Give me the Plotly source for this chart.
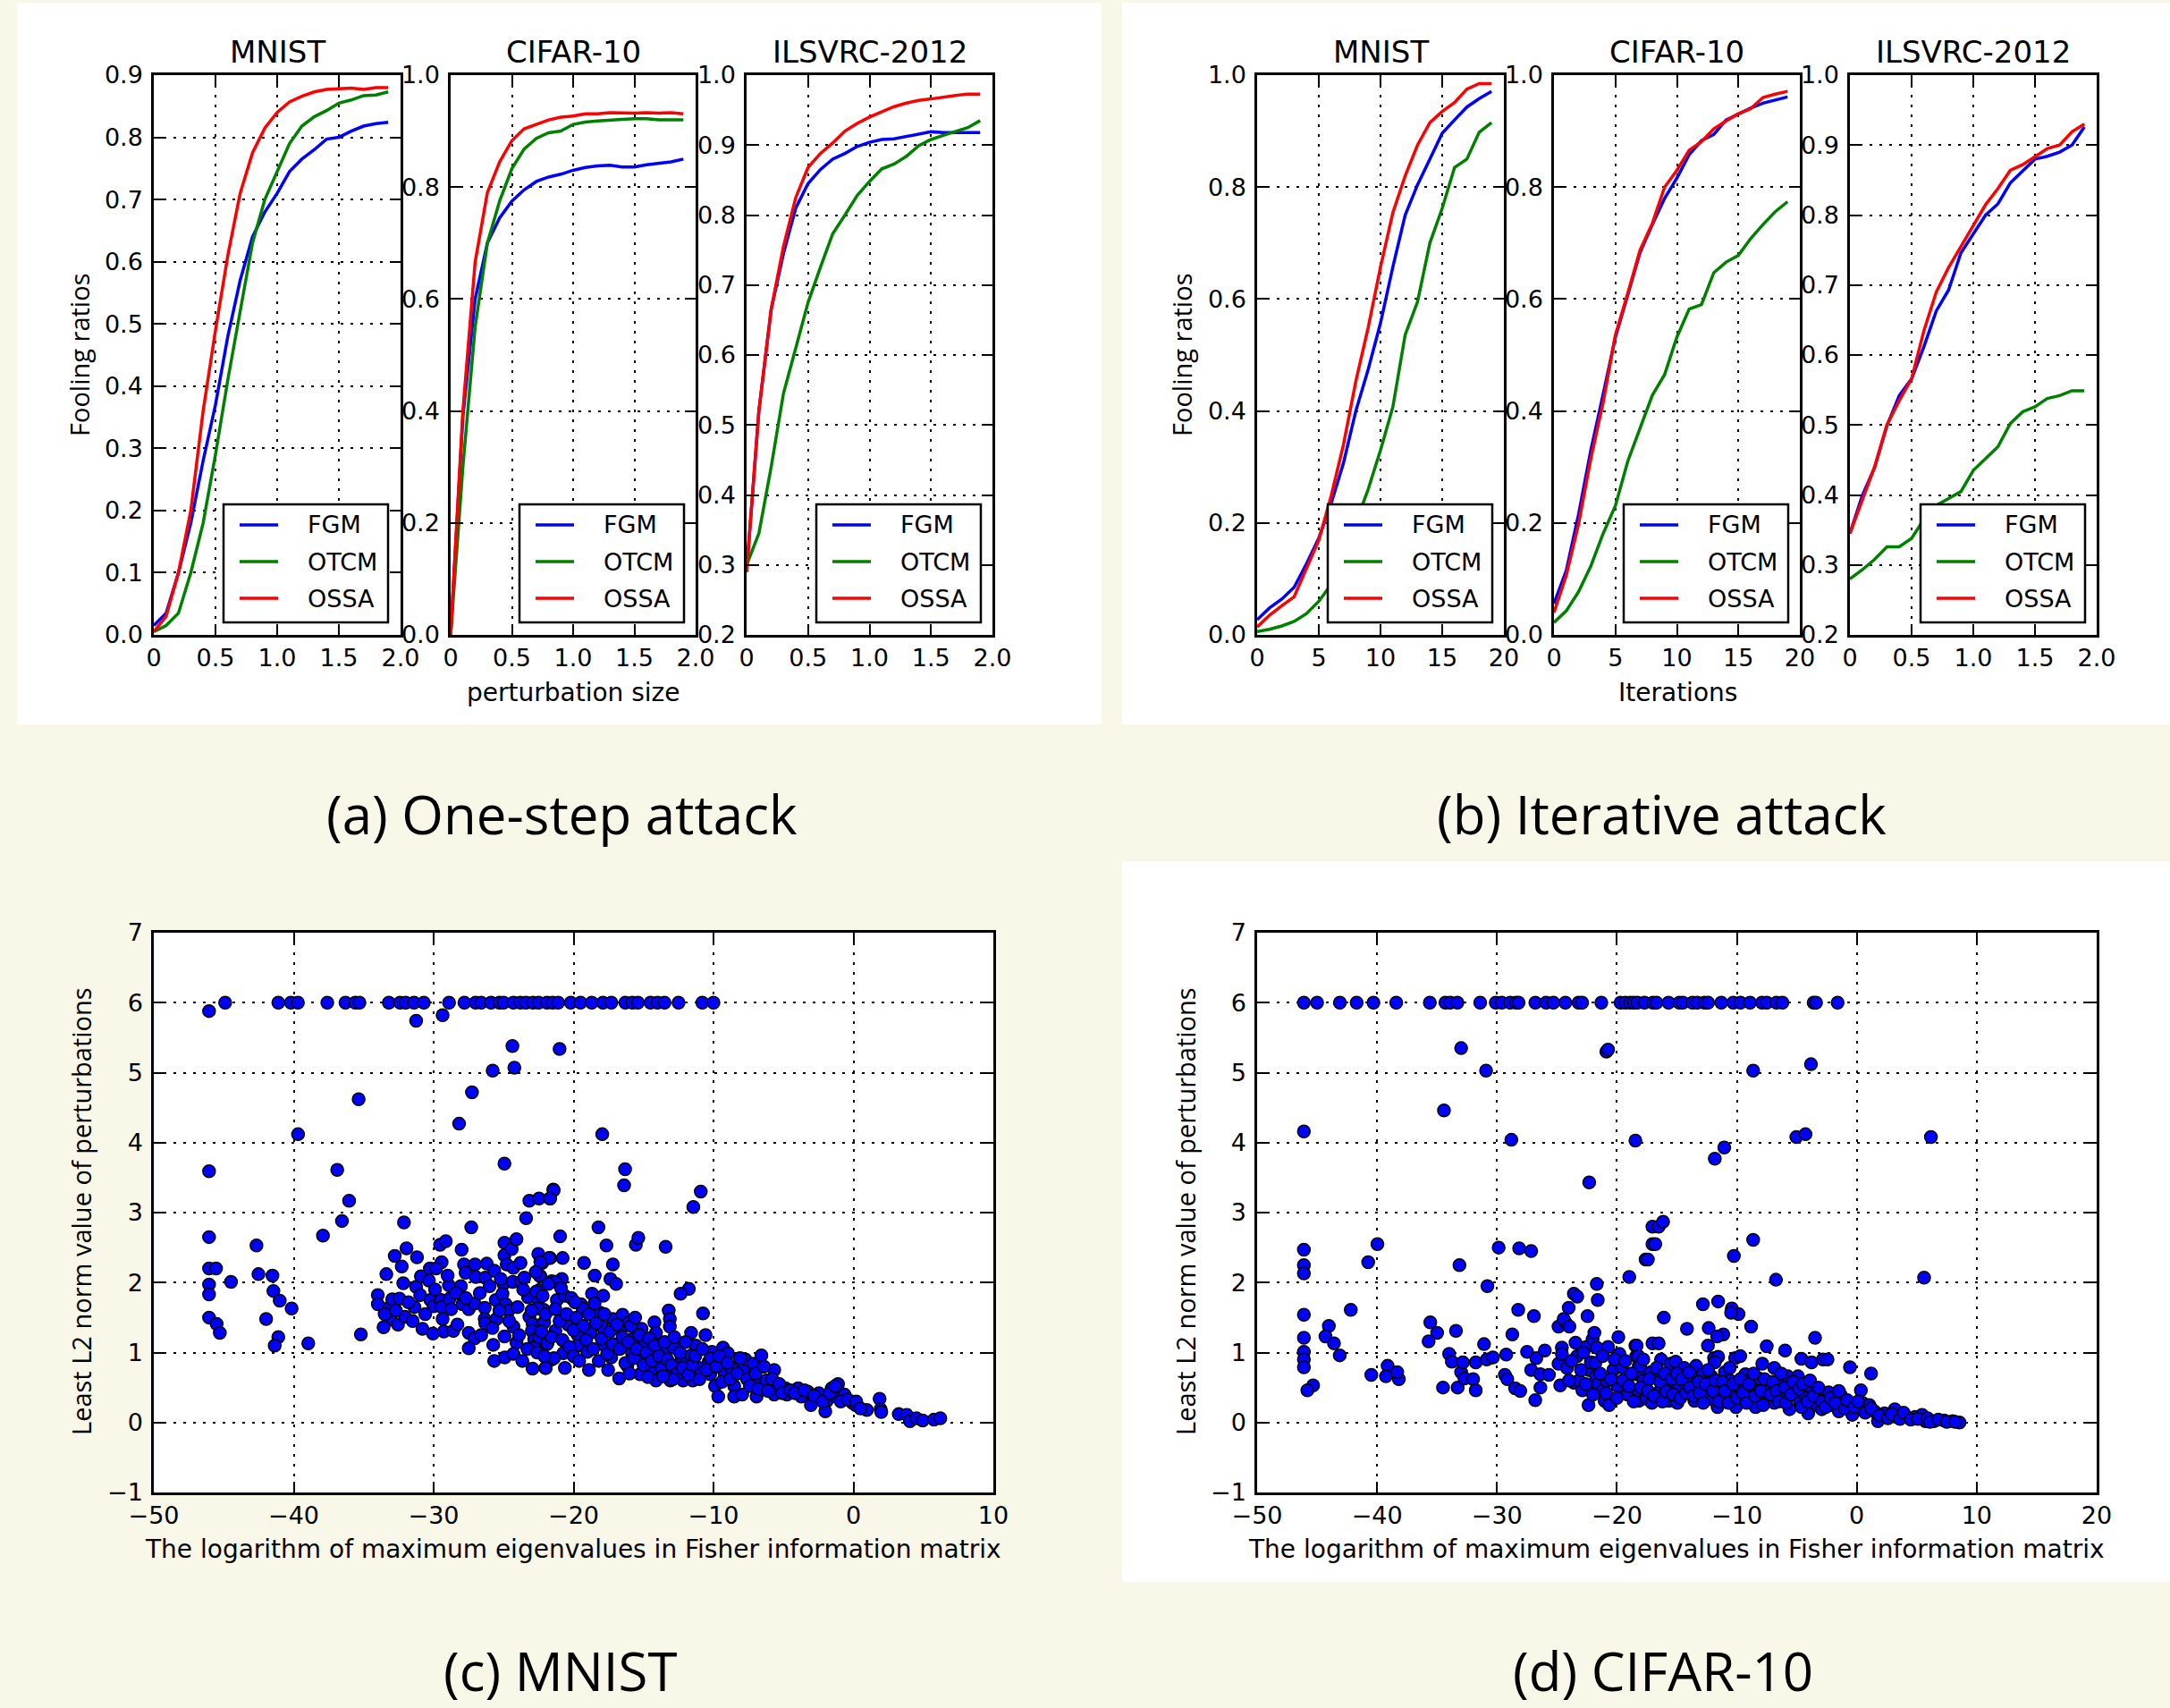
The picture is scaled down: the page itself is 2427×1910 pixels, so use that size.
import plotly.graph_objects as go

W, H = 2427, 1910
BG = "#f8f7e8"

# ---------------- data ----------------
x_pert = [0.0, 0.1, 0.2, 0.3, 0.4, 0.5, 0.6, 0.7, 0.8, 0.9, 1.0, 1.1, 1.2, 1.3, 1.4, 1.5, 1.6, 1.7, 1.8, 1.9]
x_iter = list(range(20))

a_mnist_fgm = [0.015, 0.035, 0.10, 0.18, 0.28, 0.37, 0.48, 0.57, 0.64, 0.68, 0.71, 0.745, 0.765, 0.78, 0.797, 0.80, 0.81, 0.818, 0.822, 0.824]
a_mnist_otcm = [0.005, 0.015, 0.035, 0.10, 0.18, 0.29, 0.41, 0.52, 0.63, 0.70, 0.745, 0.79, 0.818, 0.833, 0.843, 0.855, 0.86, 0.867, 0.868, 0.873]
a_mnist_ossa = [0.005, 0.03, 0.10, 0.20, 0.36, 0.49, 0.61, 0.71, 0.775, 0.815, 0.84, 0.857, 0.866, 0.873, 0.877, 0.878, 0.879, 0.877, 0.880, 0.880]

a_cifar_fgm = [0.0, 0.39, 0.60, 0.70, 0.745, 0.775, 0.795, 0.81, 0.818, 0.823, 0.83, 0.835, 0.838, 0.839, 0.836, 0.836, 0.84, 0.843, 0.845, 0.85]
a_cifar_otcm = [0.0, 0.30, 0.55, 0.70, 0.775, 0.833, 0.868, 0.887, 0.897, 0.90, 0.912, 0.916, 0.918, 0.92, 0.921, 0.922, 0.922, 0.92, 0.92, 0.92]
a_cifar_ossa = [0.0, 0.40, 0.666, 0.79, 0.845, 0.883, 0.904, 0.912, 0.92, 0.925, 0.927, 0.931, 0.931, 0.933, 0.932, 0.932, 0.933, 0.932, 0.933, 0.931]

a_ilsvrc_fgm = [0.29, 0.52, 0.665, 0.745, 0.81, 0.845, 0.865, 0.88, 0.888, 0.898, 0.904, 0.908, 0.909, 0.912, 0.916, 0.919, 0.918, 0.918, 0.918, 0.918]
a_ilsvrc_otcm = [0.30, 0.345, 0.44, 0.545, 0.61, 0.675, 0.725, 0.773, 0.80, 0.828, 0.848, 0.866, 0.873, 0.884, 0.899, 0.908, 0.914, 0.92, 0.925, 0.935]
a_ilsvrc_ossa = [0.29, 0.52, 0.665, 0.755, 0.825, 0.868, 0.888, 0.903, 0.92, 0.931, 0.94, 0.948, 0.955, 0.96, 0.964, 0.966, 0.969, 0.971, 0.973, 0.973]

b_mnist_fgm = [0.027, 0.048, 0.064, 0.085, 0.127, 0.173, 0.235, 0.307, 0.40, 0.474, 0.557, 0.657, 0.75, 0.804, 0.85, 0.896, 0.92, 0.943, 0.958, 0.971]
b_mnist_otcm = [0.006, 0.01, 0.016, 0.024, 0.038, 0.06, 0.09, 0.148, 0.20, 0.26, 0.33, 0.407, 0.536, 0.595, 0.70, 0.762, 0.835, 0.85, 0.898, 0.915]
b_mnist_ossa = [0.014, 0.035, 0.052, 0.068, 0.119, 0.169, 0.248, 0.34, 0.453, 0.549, 0.657, 0.754, 0.82, 0.875, 0.915, 0.935, 0.951, 0.975, 0.985, 0.985]

b_cifar_fgm = [0.056, 0.115, 0.215, 0.33, 0.43, 0.532, 0.607, 0.683, 0.733, 0.78, 0.816, 0.858, 0.883, 0.894, 0.92, 0.931, 0.941, 0.95, 0.956, 0.961]
b_cifar_otcm = [0.022, 0.043, 0.077, 0.123, 0.181, 0.231, 0.31, 0.369, 0.428, 0.465, 0.532, 0.582, 0.59, 0.647, 0.666, 0.678, 0.708, 0.733, 0.756, 0.774]
b_cifar_ossa = [0.04, 0.106, 0.198, 0.315, 0.415, 0.536, 0.61, 0.687, 0.735, 0.80, 0.83, 0.866, 0.881, 0.904, 0.918, 0.931, 0.94, 0.96, 0.966, 0.971]

b_ilsvrc_fgm = [0.345, 0.399, 0.439, 0.499, 0.542, 0.566, 0.612, 0.663, 0.693, 0.746, 0.773, 0.80, 0.816, 0.846, 0.863, 0.88, 0.884, 0.89, 0.90, 0.926]
b_ilsvrc_otcm = [0.28, 0.293, 0.308, 0.326, 0.326, 0.338, 0.365, 0.385, 0.395, 0.405, 0.435, 0.452, 0.469, 0.502, 0.519, 0.526, 0.538, 0.542, 0.549, 0.549]
b_ilsvrc_ossa = [0.345, 0.393, 0.44, 0.50, 0.535, 0.566, 0.635, 0.69, 0.725, 0.755, 0.786, 0.815, 0.838, 0.864, 0.872, 0.884, 0.895, 0.90, 0.919, 0.93]

# (c) MNIST scatter: points at the cap value 6
c_top_x = [-44.9, -41.1, -40.2, -39.7, -37.6, -36.3, -35.6, -35.3, -33.2, -32.4, -32.0, -31.4, -30.7, -28.9,
           -27.8, -27.0, -26.6, -25.9, -25.3, -25.0, -24.3, -23.8, -23.4, -22.9, -22.5, -21.9, -21.5, -21.1,
           -20.2, -19.5, -18.7, -17.9, -17.3, -16.3, -15.8, -15.4, -14.5, -14.0, -13.5, -12.5, -10.8, -10.0]
c_points = [
    (-46.05, 5.88), (-31.25, 5.74), (-29.36, 5.82), (-24.37, 5.38), (-24.23, 5.07), (-25.78, 5.03), (-27.26, 4.72),
    (-28.18, 4.27), (-35.36, 4.62), (-39.69, 4.12), (-24.94, 3.70), (-46.05, 3.59), (-36.89, 3.61), (-36.04, 3.17),
    (-36.55, 2.88), (-37.91, 2.67), (-32.12, 2.86), (-27.31, 2.79), (-23.39, 2.92), (-23.16, 3.17), (-22.47, 3.20),
    (-21.67, 3.20), (-21.45, 3.33), (-46.05, 2.65), (-46.05, 2.2), (-45.55, 2.2), (-46.05, 1.97), (-46.05, 1.83),
    (-44.48, 2.01), (-46.05, 1.50), (-45.51, 1.41), (-45.28, 1.28), (-42.66, 2.53), (-42.52, 2.12), (-41.52, 2.10),
    (-41.45, 1.88), (-41.0, 1.74), (-41.97, 1.48), (-40.15, 1.63), (-41.1, 1.22), (-41.36, 1.10), (-38.96, 1.13),
    (-35.2, 1.26),
    (-33.99, 1.82), (-33.99, 1.69), (-33.38, 2.12), (-32.78, 2.38), (-32.28, 2.23), (-32.17, 1.99), (-31.94, 2.49),
    (-31.19, 2.36), (-33.13, 1.65), (-32.96, 1.76), (-32.44, 1.77), (-33.08, 1.47), (-32.55, 1.40), (-33.58, 1.36),
    (-32.05, 1.51), (-31.37, 1.65), (-31.25, 1.94), (-30.96, 1.82), (-30.91, 2.09), (-30.34, 2.03), (-30.27, 2.2),
    (-30.23, 1.75), (-30.0, 1.66), (-29.54, 2.54), (-29.13, 2.59), (-29.43, 2.29), (-29.82, 2.2), (-29.48, 1.75),
    (-29.43, 1.65), (-29.36, 1.48), (-28.91, 1.96), (-28.86, 1.77), (-28.75, 1.62), (-30.8, 1.34), (-30.05, 1.27),
    (-29.27, 1.3), (-28.59, 1.31), (-28.0, 2.47), (-27.83, 2.26), (-27.72, 2.14), (-28.05, 1.95), (-27.94, 1.69),
    (-27.49, 1.62), (-27.08, 1.70), (-27.04, 2.26), (-26.99, 2.08), (-27.49, 1.28), (-27.08, 1.20), (-27.49, 1.06),
    (-26.31, 2.07), (-26.2, 2.27), (-26.35, 1.64), (-26.35, 1.48), (-26.31, 1.42), (-25.67, 2.17), (-25.51, 1.48),
    (-25.56, 1.75), (-25.74, 1.11), (-25.67, 0.88), (-24.94, 2.57), (-24.94, 2.39), (-24.42, 2.48), (-24.78, 2.26),
    (-25.01, 1.98), (-25.08, 1.84), (-24.85, 1.69), (-24.63, 1.6), (-24.94, 1.23), (-24.92, 0.93), (-24.3, 2.21),
    (-24.08, 2.62), (-23.79, 2.28), (-24.35, 2.01), (-23.75, 2.01), (-23.52, 2.07), (-24.3, 1.37), (-24.08, 1.14),
    (-24.3, 0.98), (-23.66, 0.88), (-23.25, 1.79), (-23.16, 1.51), (-22.93, 1.41), (-22.98, 1.31), (-22.81, 1.19),
    (-22.81, 1.07), (-22.93, 0.77), (-22.52, 2.41), (-22.36, 2.09), (-22.24, 2.28), (-22.47, 1.89), (-22.52, 1.75),
    (-22.13, 1.61), (-22.24, 1.41), (-22.47, 1.22), (-21.9, 1.12), (-22.01, 0.78), (-21.67, 2.35), (-21.56, 2.02),
    (-21.56, 0.9),
    (-21.0, 5.34), (-17.95, 4.12), (-16.32, 3.62), (-16.39, 3.39), (-21.42, 3.32), (-21.69, 3.20), (-10.91, 3.30),
    (-11.44, 3.08), (-18.22, 2.79), (-20.96, 2.66), (-17.65, 2.53), (-17.19, 2.26), (-19.25, 2.28), (-18.49, 2.10),
    (-17.37, 2.05), (-16.96, 1.98), (-15.55, 2.54), (-15.37, 2.64), (-13.42, 2.51), (-20.78, 2.35), (-21.76, 2.35),
    (-22.37, 2.29), (-20.84, 2.05), (-21.3, 2.01), (-22.44, 2.10), (-11.76, 1.91), (-12.35, 1.84), (-10.75, 1.56),
    (-13.2, 1.60), (-13.12, 1.48), (-13.12, 1.37),
    (-22.67, 1.87), (-22.21, 1.81), (-21.19, 1.75), (-20.62, 1.81), (-20.16, 1.78), (-19.47, 1.69), (-18.68, 1.84),
    (-17.88, 1.81), (-19.36, 1.63), (-18.1, 1.57), (-17.19, 1.48), (-16.5, 1.54), (-16.05, 1.43), (-22.56, 1.63),
    (-22.1, 1.43), (-21.3, 1.31), (-20.39, 1.40), (-19.7, 1.25), (-18.79, 1.28), (-17.99, 1.37), (-21.87, 1.13),
    (-20.73, 0.99), (-19.70, 1.10), (-19.02, 1.01), (-17.76, 1.10), (-17.31, 0.93), (-21.99, 0.78), (-20.62, 0.78),
    (-18.9, 0.75), (-17.53, 0.75), (-16.74, 0.63), (-16.62, 1.34), (-15.82, 1.19), (-15.14, 1.34), (-14.91, 1.13),
    (-14.22, 1.43), (-14.11, 1.28), (-15.82, 0.99), (-15.14, 0.96), (-14.22, 0.99), (-13.65, 1.04), (-12.85, 1.07),
    (-16.16, 0.81), (-15.25, 0.69), (-14.45, 0.75), (-14.11, 0.60), (-13.31, 0.72), (-13.08, 0.60), (-12.17, 0.60),
    (-12.28, 0.93), (-11.94, 0.87), (-11.6, 1.28), (-11.26, 1.10), (-11.6, 0.96), (-11.48, 0.60), (-11.03, 0.78),
    (-10.57, 1.25), (-10.34, 0.87), (-10.11, 1.01), (-10.23, 0.69), (-9.89, 0.52), (-9.66, 0.37), (-9.32, 1.07),
    (-8.97, 0.99), (-9.2, 0.69), (-8.74, 0.78), (-8.52, 0.52), (-8.52, 0.37), (-7.83, 0.78), (-7.95, 0.40),
    (-7.72, 0.90), (-7.15, 0.84), (-6.92, 0.37), (-6.69, 0.57), (-6.58, 0.96), (-6.23, 0.60), (-5.66, 0.75),
    (-5.89, 0.49), (-5.66, 0.40), (-4.86, 0.49), (-4.75, 0.40), (-3.95, 0.49), (-3.72, 0.37), (-3.26, 0.44),
    (-3.04, 0.25), (-2.47, 0.42), (-1.89, 0.31), (-2.01, 0.16), (-1.55, 0.49), (-1.1, 0.55), (-1.21, 0.37),
    (-0.64, 0.40), (-0.07, 0.28), (0.16, 0.25), (0.96, 0.18), (1.87, 0.34), (1.94, 0.19), (1.99, 0.15),
    (3.24, 0.12), (3.81, 0.11), (4.04, 0.02), (4.5, 0.06), (4.95, 0.03), (5.75, 0.04), (6.21, 0.06),
    # dense band, further points
    (-22.0, 1.55), (-21.6, 1.22), (-21.3, 1.62), (-21.0, 1.45), (-20.8, 1.18), (-20.5, 1.55), (-20.3, 1.08),
    (-20.0, 1.32), (-20.0, 0.95), (-21.4, 0.92), (-21.8, 1.98), (-20.9, 1.92),
    (-19.8, 1.50), (-19.6, 0.88), (-19.3, 1.38), (-19.1, 1.18), (-18.9, 1.55), (-18.6, 1.05), (-18.4, 1.42),
    (-18.2, 0.88), (-18.0, 1.20), (-17.8, 1.55), (-17.6, 0.98), (-17.4, 1.30), (-17.2, 1.12), (-19.9, 1.72),
    (-18.5, 1.70),
    (-16.9, 1.40), (-16.7, 1.05), (-16.5, 1.22), (-16.3, 0.85), (-16.1, 1.15), (-15.9, 1.38), (-15.7, 0.92),
    (-15.5, 1.05), (-15.3, 1.25), (-15.0, 0.82), (-14.8, 1.00), (-14.6, 1.20), (-14.4, 0.88), (-14.2, 1.10),
    (-16.0, 0.70), (-15.6, 1.50), (-14.7, 0.65),
    (-13.9, 0.95), (-13.7, 0.78), (-13.5, 1.15), (-13.3, 0.90), (-13.0, 0.82), (-12.8, 1.22), (-12.6, 0.70),
    (-12.4, 1.00), (-12.2, 0.78), (-12.0, 1.15), (-11.8, 0.68), (-11.5, 0.82), (-11.3, 0.95), (-11.0, 0.62),
    (-10.8, 1.05), (-10.5, 0.75), (-10.2, 0.92), (-12.9, 0.62), (-13.6, 0.66),
    (-9.8, 0.80), (-9.6, 0.95), (-9.4, 0.58), (-9.0, 0.85), (-8.8, 0.62), (-8.3, 0.70), (-8.1, 0.92),
    (-7.6, 0.62), (-7.4, 0.52), (-7.0, 0.70), (-6.8, 0.48), (-6.4, 0.80), (-6.1, 0.45), (-5.8, 0.62),
    (-5.3, 0.55), (-5.1, 0.42),
    (-4.5, 0.46), (-4.2, 0.42), (-3.5, 0.46), (-2.8, 0.38), (-2.2, 0.30), (-1.7, 0.42), (-1.3, 0.52),
    (-0.9, 0.30), (-0.4, 0.33), (0.2, 0.30), (0.5, 0.20),
    (-33.5, 1.55), (-32.7, 1.60), (-31.8, 1.72), (-31.5, 1.45), (-30.6, 1.55), (-29.9, 1.90), (-29.0, 2.10),
    (-28.4, 1.85), (-28.3, 1.40), (-27.7, 1.78), (-26.7, 1.85), (-26.6, 1.25), (-26.0, 1.95), (-25.8, 1.35),
    (-25.3, 1.60), (-25.2, 2.05), (-24.6, 1.45), (-24.0, 1.65), (-23.9, 1.25), (-23.6, 1.90), (-23.3, 1.05),
    (-23.0, 1.60), (-22.7, 2.15), (-22.6, 1.00), (-22.3, 1.30), (-22.1, 0.95),
]

# (d) CIFAR-10 scatter
d_top_x = [-46.1, -45.0, -43.1, -41.7, -40.3, -38.4, -35.6, -34.3, -33.9, -33.3, -31.4, -30.1, -29.6, -28.9,
           -28.4, -28.2, -26.8, -25.9, -25.3, -24.3, -23.2, -22.9, -21.3, -19.7, -19.3, -18.9, -18.6, -18.3,
           -17.7, -17.0, -16.7, -15.7, -14.8, -14.5, -13.7, -13.3, -12.7, -12.4, -11.3, -10.3, -9.7, -8.9,
           -7.9, -7.5, -6.7, -6.2, -3.6, -3.4, -1.6]
d_points = [
    (-32.99, 5.35), (-30.91, 5.03), (-34.42, 4.46), (-46.1, 4.16), (-28.8, 4.04), (-20.88, 5.30), (-20.74, 5.33),
    (-18.46, 4.03), (-22.31, 3.43), (-17.04, 2.80), (-17.04, 2.55), (-17.61, 2.33), (-18.97, 2.08), (-46.1, 2.47),
    (-46.1, 2.25), (-46.1, 2.13), (-40.74, 2.29), (-39.97, 2.55), (-33.13, 2.25), (-29.86, 2.50), (-28.15, 2.49),
    (-27.15, 2.45), (-30.8, 1.95), (-21.68, 1.98), (-21.6, 1.75), (-46.1, 1.54), (-42.19, 1.61), (-28.23, 1.61),
    (-26.92, 1.52), (-46.1, 1.21), (-46.1, 1.01), (-46.1, 0.90), (-46.1, 0.79), (-44.02, 1.38), (-44.3, 1.23),
    (-43.59, 1.13), (-43.11, 0.96), (-45.33, 0.53), (-45.81, 0.46), (-40.48, 0.68), (-39.12, 0.81), (-39.26, 0.66),
    (-38.18, 0.62), (-38.32, 0.72), (-35.56, 1.43), (-34.99, 1.28), (-35.7, 1.16), (-33.42, 1.31), (-33.99, 0.98),
    (-33.76, 0.87), (-34.5, 0.50), (-33.28, 0.50), (-32.99, 0.72), (-32.71, 0.63), (-32.85, 0.86), (-31.99, 0.62),
    (-31.77, 0.86), (-31.77, 0.46), (-31.08, 1.12), (-30.85, 0.90), (-30.34, 0.93), (-29.23, 0.97), (-29.34, 0.68),
    (-29.14, 0.62), (-28.49, 0.49), (-28.06, 0.45), (-28.72, 1.26), (-27.49, 1.01), (-26.72, 0.92), (-27.15, 0.75),
    (-26.38, 0.69), (-26.81, 0.32), (-26.38, 0.50), (-26.01, 1.03), (-25.67, 0.68), (-24.87, 1.37), (-24.3, 1.43),
    (-24.44, 1.48), (-24.02, 1.64), (-23.96, 1.37), (-23.59, 1.84), (-23.31, 1.80), (-24.87, 0.84), (-24.59, 1.07),
    (-24.59, 0.98), (-24.16, 0.78), (-24.73, 0.53), (-23.45, 1.14), (-23.31, 0.95), (-23.59, 0.57), (-23.16, 0.60),
    (-22.88, 0.46), (-22.54, 1.08), (-22.37, 0.75), (-22.17, 0.86), (-22.45, 1.52), (-22.03, 1.19), (-21.88, 1.28),
    (-22.37, 0.25), (-21.74, 0.66), (-21.68, 1.07), (-21.6, 0.55), (-21.17, 0.46), (-21.03, 0.31), (-20.65, 0.25),
    (-20.82, 0.59), (-20.74, 1.08), (-20.3, 0.75), (-19.96, 0.52), (-19.88, 1.22), (-19.79, 0.98), (-19.6, 0.79),
    (-19.12, 0.40), (-18.46, 1.10), (-18.38, 0.95), (-18.46, 0.69), (-18.18, 0.81), (-18.18, 0.31), (-17.89, 0.66),
    (-17.61, 0.57), (-17.61, 0.40), (-17.18, 0.72), (-17.18, 0.31), (-17.04, 1.13),
    (-8.64, 5.03), (-3.82, 5.12), (-5.04, 4.08), (-4.28, 4.12), (6.18, 4.08), (-11.84, 3.77), (-11.05, 3.93),
    (-16.52, 2.80), (-16.15, 2.87), (-16.8, 2.55), (-17.42, 2.33), (-8.64, 2.61), (-10.25, 2.38), (-6.74, 2.04),
    (5.61, 2.07), (-12.83, 1.69), (-11.56, 1.73), (-10.42, 1.63), (-9.86, 1.55), (-10.48, 1.57), (-16.09, 1.50),
    (-14.16, 1.34), (-12.35, 1.35), (-11.13, 1.26), (-11.64, 1.23), (-8.81, 1.37), (-3.48, 1.21), (-16.52, 1.13),
    (-12.41, 1.10), (-7.51, 1.09), (-5.98, 1.03), (-10.14, 0.92), (-9.72, 0.95), (-4.62, 0.91), (-3.77, 0.86),
    (-2.83, 0.90), (-2.44, 0.90), (-0.57, 0.79), (1.19, 0.70), (-18.36, 1.10), (-18.22, 0.95), (-16.32, 0.90),
    (-11.9, 0.92), (-11.56, 0.94), (-11.84, 0.86),
    (-18.07, 0.81), (-17.79, 0.60), (-18.22, 0.46), (-17.51, 0.34), (-17.08, 0.28), (-16.66, 0.66), (-16.37, 0.46),
    (-15.81, 0.52), (-15.67, 0.31), (-15.52, 0.84), (-15.1, 0.87), (-14.96, 0.28), (-14.82, 0.49), (-14.39, 0.78),
    (-14.25, 0.55), (-13.68, 0.63), (-13.54, 0.31), (-13.4, 0.81), (-12.97, 0.49), (-12.83, 0.69), (-12.27, 0.34),
    (-12.12, 0.66), (-11.61, 0.22), (-11.42, 0.49), (-11.27, 0.34), (-10.99, 0.72), (-10.57, 0.60), (-10.42, 0.40),
    (-10.08, 0.22), (-9.86, 0.52), (-9.29, 0.69), (-9.01, 0.31), (-8.73, 0.49), (-8.44, 0.22), (-8.16, 0.63),
    (-7.88, 0.84), (-7.59, 0.34), (-7.45, 0.49), (-6.88, 0.78), (-6.88, 0.28), (-6.46, 0.55), (-6.18, 0.37),
    (-5.75, 0.66), (-5.61, 0.19), (-5.18, 0.46), (-4.9, 0.66), (-4.76, 0.31), (-4.33, 0.40), (-4.05, 0.13),
    (-3.77, 0.49), (-3.34, 0.25), (-3.06, 0.37), (-2.92, 0.19), (-2.35, 0.43), (-2.07, 0.25), (-1.5, 0.16),
    (-1.36, 0.40), (-0.65, 0.25), (-0.37, 0.11), (0.34, 0.46), (0.48, 0.28), (1.05, 0.25), (1.47, 0.16),
    (1.76, 0.02), (2.32, 0.13), (3.17, 0.19), (3.31, 0.08), (4.16, 0.08), (4.87, 0.08), (5.44, 0.11),
    (5.72, 0.02), (6.43, 0.02), (7.28, 0.03), (7.99, 0.02), (8.56, 0.0),
    # dense band, further points
    (-24.0, 0.60), (-23.8, 0.88), (-23.0, 0.75), (-22.8, 1.00), (-22.6, 0.55), (-22.0, 0.40), (-21.8, 0.85),
    (-21.4, 0.70), (-21.2, 0.95), (-20.9, 0.42), (-20.5, 0.62), (-20.2, 0.90), (-20.0, 0.35), (-19.5, 0.60),
    (-19.3, 0.88), (-19.0, 0.52), (-18.8, 0.70), (-18.6, 0.30), (-18.0, 0.50), (-17.8, 0.90), (-17.4, 0.45),
    (-17.3, 0.62),
    (-16.9, 0.38), (-16.7, 0.78), (-16.4, 0.58), (-16.2, 0.30), (-16.0, 0.70), (-15.9, 0.44), (-15.4, 0.62),
    (-15.3, 0.40), (-15.0, 0.70), (-14.7, 0.35), (-14.6, 0.62), (-14.2, 0.42), (-14.0, 0.72), (-13.9, 0.50),
    (-13.6, 0.38), (-13.2, 0.58), (-13.1, 0.42), (-12.8, 0.28), (-12.6, 0.55), (-12.4, 0.75), (-12.0, 0.45),
    (-11.8, 0.60), (-11.5, 0.30), (-11.2, 0.58), (-11.0, 0.45), (-10.7, 0.28), (-10.6, 0.78), (-10.3, 0.55),
    (-10.0, 0.35), (-9.7, 0.62), (-9.5, 0.42), (-9.2, 0.28), (-9.0, 0.55), (-8.6, 0.70), (-8.5, 0.38),
    (-8.0, 0.45), (-7.8, 0.25), (-7.7, 0.62), (-7.2, 0.40), (-7.0, 0.58), (-6.7, 0.45), (-6.5, 0.30),
    (-6.3, 0.70), (-6.0, 0.50), (-5.9, 0.28), (-5.5, 0.40), (-5.3, 0.58),
    (-4.8, 0.48), (-4.6, 0.22), (-4.5, 0.55), (-4.1, 0.30), (-3.9, 0.60), (-3.6, 0.38), (-3.2, 0.50),
    (-2.9, 0.30), (-2.6, 0.22), (-2.2, 0.35), (-1.8, 0.28), (-1.5, 0.45), (-1.0, 0.20), (-0.8, 0.32),
    (-0.2, 0.22), (0.1, 0.30), (0.7, 0.14), (1.2, 0.20), (1.9, 0.10), (2.6, 0.06),
    (2.9, 0.12), (3.6, 0.05), (3.9, 0.14), (4.5, 0.04), (5.1, 0.05), (5.9, 0.06), (6.1, 0.01),
    (6.8, 0.04), (7.5, 0.01), (8.2, 0.01),
]

series_names = ["FGM", "OTCM", "OSSA"]
series_colors = ["#0000ff", "#008000", "#ff0000"]

pert_tickvals = [0, 0.5, 1.0, 1.5, 2.0]
pert_ticktext = ["0", "0.5", "1.0", "1.5", "2.0"]
iter_tickvals = [0, 5, 10, 15, 20]
iter_ticktext = ["0", "5", "10", "15", "20"]
mnist_a_yticks = [0.0, 0.1, 0.2, 0.3, 0.4, 0.5, 0.6, 0.7, 0.8, 0.9]
unit_yticks = [0.0, 0.2, 0.4, 0.6, 0.8, 1.0]
ilsvrc_yticks = [0.2, 0.3, 0.4, 0.5, 0.6, 0.7, 0.8, 0.9, 1.0]
scatter_yticks = [-1, 0, 1, 2, 3, 4, 5, 6, 7]
c_xticks = [-50, -40, -30, -20, -10, 0, 10]
d_xticks = [-50, -40, -30, -20, -10, 0, 10, 20]

# ---------------- helpers ----------------
def fx(p):
    return p / W

def fy(p):
    return 1 - p / H

TICKFONT = dict(family="DejaVu Sans", size=27, color="black")
common_axis = dict(
    showline=True, linecolor="black", linewidth=2.5, mirror="ticks",
    ticks="inside", ticklen=12, tickwidth=1.5, tickcolor="black",
    showgrid=True, gridcolor="black", gridwidth=1.5, griddash="3px,8px",
    zeroline=False, tickfont=TICKFONT, fixedrange=True,
)
X_STANDOFF = 0
Y_STANDOFF = 4
LINE_W = 3.5

fig = go.Figure()

line_panels = [
    (1, (172, 448), [0, 2], pert_tickvals, pert_ticktext, [0, 0.9], mnist_a_yticks,
     [a_mnist_fgm, a_mnist_otcm, a_mnist_ossa], x_pert, 434),
    (2, (504, 778), [0, 2], pert_tickvals, pert_ticktext, [0, 1.0], unit_yticks,
     [a_cifar_fgm, a_cifar_otcm, a_cifar_ossa], x_pert, 765),
    (3, (835, 1110), [0, 2], pert_tickvals, pert_ticktext, [0.2, 1.0], ilsvrc_yticks,
     [a_ilsvrc_fgm, a_ilsvrc_otcm, a_ilsvrc_ossa], x_pert, 1097),
    (4, (1406, 1682), [0, 20], iter_tickvals, iter_ticktext, [0, 1.0], unit_yticks,
     [b_mnist_fgm, b_mnist_otcm, b_mnist_ossa], x_iter, 1669),
    (5, (1738, 2013), [0, 20], iter_tickvals, iter_ticktext, [0, 1.0], unit_yticks,
     [b_cifar_fgm, b_cifar_otcm, b_cifar_ossa], x_iter, 2000),
    (6, (2069, 2345), [0, 2], pert_tickvals, pert_ticktext, [0.2, 1.0], ilsvrc_yticks,
     [b_ilsvrc_fgm, b_ilsvrc_otcm, b_ilsvrc_ossa], x_pert, 2332),
]

layout_axes = {}
shapes = []
ann = []

# white panel backgrounds
for x0, y0, x1, y1 in [(19, 3, 1232, 810), (1255, 3, 2427, 810), (1255, 963, 2427, 1769)]:
    shapes.append(dict(type="rect", xref="paper", yref="paper", x0=fx(x0), x1=fx(x1),
                       y0=fy(y1), y1=fy(y0), fillcolor="white", line=dict(width=0), layer="below"))

LEG_FONT = dict(family="DejaVu Sans", size=27, color="black")
LEG_W, LEG_TOP, LEG_BOTTOM = 184, 564, 696
LEG_ROWS = [587, 628, 669]

for idx, xd, xr, xtv, xtt, yr, ytv, series, xs, leg_right in line_panels:
    sx = "" if idx == 1 else str(idx)
    layout_axes["xaxis" + sx] = dict(common_axis, domain=[fx(xd[0]), fx(xd[1])], range=xr,
                                     tickvals=xtv, ticktext=xtt, anchor="y" + sx,
                                     ticklabelstandoff=X_STANDOFF)
    layout_axes["yaxis" + sx] = dict(common_axis, domain=[fy(710), fy(84)], range=yr,
                                     tickvals=ytv, tickformat=".1f", anchor="x" + sx,
                                     ticklabelstandoff=Y_STANDOFF)
    for name, color, ys in zip(series_names, series_colors, series):
        fig.add_trace(go.Scatter(
            x=xs, y=ys, mode="lines", name=name, line=dict(color=color, width=LINE_W),
            xaxis="x" + sx, yaxis="y" + sx, showlegend=False, hoverinfo="skip",
        ))
    # legend box (lower right, matplotlib style)
    left = leg_right - LEG_W
    shapes.append(dict(type="rect", xref="paper", yref="paper", layer="above",
                       x0=fx(left), x1=fx(leg_right), y0=fy(LEG_BOTTOM), y1=fy(LEG_TOP),
                       fillcolor="white", line=dict(color="black", width=2.5)))
    for name, color, ry in zip(series_names, series_colors, LEG_ROWS):
        shapes.append(dict(type="line", xref="paper", yref="paper", layer="above",
                           x0=fx(left + 18), x1=fx(left + 61), y0=fy(ry), y1=fy(ry),
                           line=dict(color=color, width=LINE_W)))
        ann.append(dict(text=name, x=fx(left + 92), y=fy(ry), xanchor="left", font=LEG_FONT))

scatter_panels = [
    (7, (172, 1111), [-50, 10], c_xticks, c_top_x, c_points),
    (8, (1406, 2345), [-50, 20], d_xticks, d_top_x, d_points),
]
for idx, xd, xr, xtv, top_x, pts in scatter_panels:
    sx = str(idx)
    layout_axes["xaxis" + sx] = dict(common_axis, domain=[fx(xd[0]), fx(xd[1])], range=xr,
                                     tickvals=xtv, anchor="y" + sx, ticklabelstandoff=X_STANDOFF)
    layout_axes["yaxis" + sx] = dict(common_axis, domain=[fy(1669), fy(1043)], range=[-1, 7],
                                     tickvals=scatter_yticks, anchor="x" + sx,
                                     ticklabelstandoff=Y_STANDOFF)
    px_ = list(top_x) + [p[0] for p in pts]
    py_ = [6.0] * len(top_x) + [p[1] for p in pts]
    fig.add_trace(go.Scatter(
        x=px_, y=py_, mode="markers", showlegend=False,
        marker=dict(size=14, color="#0000ff", line=dict(color="black", width=1.5)),
        xaxis="x" + sx, yaxis="y" + sx, hoverinfo="skip",
    ))

# ---------------- annotations ----------------
titles = [("MNIST", 172, 448), ("CIFAR-10", 504, 778), ("ILSVRC-2012", 835, 1110),
          ("MNIST", 1406, 1682), ("CIFAR-10", 1738, 2013), ("ILSVRC-2012", 2069, 2345)]
for t, a, b in titles:
    ann.append(dict(text=t, x=fx((a + b) / 2), y=fy(58),
                    font=dict(family="DejaVu Sans", size=34, color="black")))

label_font = dict(family="DejaVu Sans", size=28, color="black")
ylabel_font = dict(family="Open Sans", size=29, color="black")
ann += [
    dict(text="perturbation size", x=fx(641), y=fy(774), font=label_font),
    dict(text="Iterations", x=fx(1876), y=fy(774), font=label_font),
    dict(text="Fooling ratios", x=fx(88), y=fy(397), textangle=-90, font=ylabel_font),
    dict(text="Fooling ratios", x=fx(1321), y=fy(397), textangle=-90, font=ylabel_font),
    dict(text="The logarithm of maximum eigenvalues in Fisher information matrix",
         x=fx(641), y=fy(1732), font=label_font),
    dict(text="The logarithm of maximum eigenvalues in Fisher information matrix",
         x=fx(1875), y=fy(1732), font=label_font),
    dict(text="Least L2 norm value of perturbations", x=fx(90), y=fy(1355), textangle=-90, font=ylabel_font),
    dict(text="Least L2 norm value of perturbations", x=fx(1325), y=fy(1355), textangle=-90, font=ylabel_font),
]
cap_font = dict(family="Open Sans", size=60, color="black")
ann += [
    dict(text="(a) One-step attack", x=fx(628), y=fy(910), font=cap_font),
    dict(text="(b) Iterative attack", x=fx(1858), y=fy(910), font=cap_font),
    dict(text="(c) MNIST", x=fx(627), y=fy(1868), font=cap_font),
    dict(text="(d) CIFAR-10", x=fx(1860), y=fy(1868), font=cap_font),
]
for a in ann:
    a.setdefault("xref", "paper")
    a.setdefault("yref", "paper")
    a.setdefault("xanchor", "center")
    a.setdefault("yanchor", "middle")
    a.setdefault("showarrow", False)

fig.update_layout(
    width=W, height=H, autosize=False,
    margin=dict(l=0, r=0, t=0, b=0),
    paper_bgcolor=BG, plot_bgcolor="white",
    template="none", showlegend=False,
    annotations=ann, shapes=shapes,
    **layout_axes,
)

fig.write_html(
    "out.html",
    config={"displayModeBar": False},
    post_script="document.body.style.margin='0px';document.body.style.overflow='hidden';",
)
